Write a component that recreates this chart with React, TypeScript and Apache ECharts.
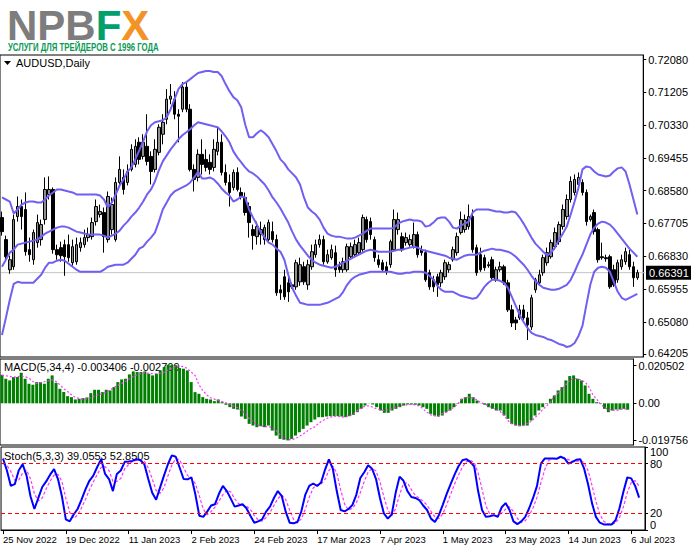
import React, { useEffect, useRef } from "react";
import * as echarts from "echarts";

const tickLabels = ["25 Nov 2022", "19 Dec 2022", "11 Jan 2023", "2 Feb 2023", "24 Feb 2023", "17 Mar 2023", "7 Apr 2023", "1 May 2023", "23 May 2023", "14 Jun 2023", "6 Jul 2023"];
const priceTicks = [0.7208, 0.71205, 0.7033, 0.69455, 0.6858, 0.67705, 0.6683, 0.65955, 0.6508, 0.64205];
const macdTicks = [0.020502, 0, -0.019756];
const stochTicks = [0, 20, 80, 100];
const stochLevels = [20, 80];
const lastPrice = 0.66391;

const open = [
  0.67862, 0.67273, 0.66469, 0.66549, 0.67888, 0.68156, 0.68076, 0.67005, 0.66737, 0.67193,
  0.67273, 0.67808, 0.68478, 0.68612, 0.67005, 0.67059, 0.67139, 0.67139, 0.66657, 0.66683,
  0.67059, 0.67139, 0.67327, 0.67353, 0.67754, 0.67942, 0.67996, 0.67273, 0.67541, 0.67273,
  0.68799, 0.68933, 0.68799, 0.69147, 0.69281, 0.69871, 0.69495, 0.69763, 0.69495, 0.69147,
  0.69602, 0.70085, 0.70486, 0.71022, 0.71022, 0.7062, 0.70754, 0.71344, 0.70754, 0.69147,
  0.68933, 0.69549, 0.69415, 0.69335, 0.69201, 0.69629, 0.69871, 0.69067, 0.68799, 0.68665,
  0.69067, 0.68532, 0.68398, 0.68156, 0.67541, 0.67353, 0.67407, 0.67273, 0.67273, 0.67487,
  0.67273, 0.65934, 0.66281, 0.66121, 0.66067, 0.66013, 0.66147, 0.66549, 0.66067, 0.66549,
  0.66871, 0.67139, 0.67273, 0.66683, 0.66791, 0.66925, 0.66549, 0.66469, 0.66469, 0.66817,
  0.66871, 0.66925, 0.67005, 0.67808, 0.67754, 0.67273, 0.66737, 0.66657, 0.66549, 0.66603,
  0.67005, 0.67541, 0.67353, 0.67193, 0.67139, 0.67085, 0.67407, 0.67005, 0.66925, 0.66389,
  0.66201, 0.66281, 0.66121, 0.66281, 0.66469, 0.66737, 0.66925, 0.67461, 0.67541, 0.6762,
  0.67888, 0.67059, 0.66871, 0.66791, 0.66576, 0.66737, 0.66201, 0.66469, 0.66549, 0.66121,
  0.65398, 0.6513, 0.65184, 0.65398, 0.65184, 0.64942, 0.65934, 0.66121, 0.66389, 0.66657,
  0.66817, 0.67085, 0.67219, 0.6762, 0.67888, 0.68344, 0.68532, 0.68746, 0.68799, 0.68532,
  0.67808, 0.67996, 0.67541, 0.66817, 0.66791, 0.66817, 0.66469, 0.66201, 0.66549, 0.66683,
  0.66871, 0.66549, 0.66255,
];
const close = [
  0.67487, 0.66817, 0.66737, 0.67808, 0.68156, 0.67888, 0.66951, 0.66871, 0.67461, 0.67728,
  0.67674, 0.68612, 0.68612, 0.67005, 0.66871, 0.66844, 0.66817, 0.66791, 0.67085, 0.67139,
  0.67193, 0.67327, 0.67407, 0.67728, 0.68156, 0.68022, 0.67353, 0.68424, 0.6821, 0.68799,
  0.69147, 0.68612, 0.69093, 0.69683, 0.69763, 0.69415, 0.69871, 0.69361, 0.69093, 0.69683,
  0.70272, 0.70406, 0.71022, 0.71103, 0.7062, 0.70567, 0.71344, 0.70754, 0.69147, 0.6888,
  0.69549, 0.69281, 0.69201, 0.69147, 0.69683, 0.69871, 0.69067, 0.68799, 0.68532, 0.69067,
  0.68612, 0.68424, 0.67996, 0.67728, 0.6738, 0.6762, 0.67541, 0.67594, 0.67728, 0.67273,
  0.65853, 0.65853, 0.65746, 0.6588, 0.66013, 0.66657, 0.66603, 0.66147, 0.66603, 0.66951,
  0.67139, 0.67273, 0.66683, 0.66871, 0.67005, 0.66469, 0.66469, 0.66683, 0.67085, 0.67085,
  0.67139, 0.67193, 0.67862, 0.67273, 0.67407, 0.66791, 0.66603, 0.66469, 0.66415, 0.67219,
  0.67808, 0.67808, 0.67005, 0.67327, 0.67273, 0.67407, 0.66871, 0.66925, 0.66201, 0.66013,
  0.66013, 0.66067, 0.66389, 0.66657, 0.66603, 0.67005, 0.67353, 0.67808, 0.67808, 0.67888,
  0.67005, 0.66389, 0.66469, 0.66523, 0.66603, 0.66255, 0.66469, 0.66549, 0.66121, 0.65398,
  0.6505, 0.6505, 0.65398, 0.65184, 0.64996, 0.6572, 0.66201, 0.66335, 0.66791, 0.66925,
  0.67193, 0.67461, 0.67674, 0.68076, 0.68344, 0.68826, 0.6888, 0.68933, 0.68532, 0.67754,
  0.67888, 0.67487, 0.66737, 0.66791, 0.66764, 0.66013, 0.66067, 0.66657, 0.66737, 0.66951,
  0.66549, 0.66255, 0.66391,
];
const high = [
  0.68022, 0.6738, 0.66844, 0.67942, 0.68424, 0.68344, 0.68532, 0.67327, 0.67541, 0.67942,
  0.67808, 0.68933, 0.6896, 0.68665, 0.67139, 0.67219, 0.67273, 0.67407, 0.67273, 0.67327,
  0.67327, 0.67541, 0.67594, 0.67862, 0.68344, 0.6821, 0.6813, 0.68558, 0.68398, 0.68933,
  0.69495, 0.69147, 0.69281, 0.69817, 0.69951, 0.70004, 0.70085, 0.7062, 0.69629, 0.69951,
  0.70352, 0.7062, 0.7129, 0.71424, 0.71236, 0.70754, 0.71478, 0.71504, 0.70888, 0.69281,
  0.69683, 0.69951, 0.69683, 0.69549, 0.69951, 0.70272, 0.70085, 0.69281, 0.69013, 0.69147,
  0.69201, 0.68665, 0.68532, 0.68264, 0.67674, 0.67754, 0.67754, 0.67674, 0.67808, 0.67754,
  0.67407, 0.66067, 0.66469, 0.66335, 0.66121, 0.66737, 0.66791, 0.66683, 0.66737, 0.67139,
  0.67273, 0.67407, 0.6738, 0.67005, 0.67139, 0.67112, 0.66683, 0.66791, 0.67166, 0.67193,
  0.67273, 0.67327, 0.67942, 0.67888, 0.67862, 0.67353, 0.66871, 0.66737, 0.66683, 0.67273,
  0.68076, 0.67996, 0.67461, 0.67461, 0.67407, 0.67728, 0.67487, 0.67112, 0.67005, 0.66469,
  0.66308, 0.66362, 0.66469, 0.66737, 0.66683, 0.67085, 0.67461, 0.68022, 0.67942, 0.6821,
  0.68076, 0.67139, 0.67059, 0.66871, 0.66683, 0.66817, 0.66549, 0.66683, 0.66603, 0.66201,
  0.65532, 0.65211, 0.65532, 0.65532, 0.65344, 0.658, 0.66255, 0.66469, 0.66871, 0.67059,
  0.67273, 0.67594, 0.67754, 0.6821, 0.68478, 0.6896, 0.69013, 0.69067, 0.6888, 0.68612,
  0.67942, 0.68076, 0.67594, 0.67193, 0.66871, 0.66871, 0.66603, 0.66737, 0.66871, 0.67059,
  0.67005, 0.66683, 0.66469,
];
const low = [
  0.6738, 0.66683, 0.66362, 0.66469, 0.67754, 0.67541, 0.66844, 0.66683, 0.66603, 0.67059,
  0.67112, 0.67674, 0.68344, 0.66898, 0.66737, 0.66683, 0.66308, 0.66683, 0.66576, 0.66603,
  0.66951, 0.67059, 0.67219, 0.67273, 0.67647, 0.67862, 0.66925, 0.67193, 0.67407, 0.67219,
  0.68719, 0.68478, 0.68719, 0.69093, 0.69201, 0.69281, 0.69415, 0.69254, 0.68746, 0.69067,
  0.69522, 0.69817, 0.70352, 0.70888, 0.70486, 0.69871, 0.70674, 0.70674, 0.69093, 0.68558,
  0.68826, 0.69013, 0.69093, 0.69013, 0.69093, 0.69522, 0.68986, 0.68719, 0.68156, 0.68585,
  0.68558, 0.68344, 0.67915, 0.67327, 0.67005, 0.67139, 0.67139, 0.67139, 0.67193, 0.67193,
  0.65773, 0.65666, 0.65666, 0.65612, 0.6596, 0.65934, 0.6604, 0.66067, 0.65934, 0.66469,
  0.66791, 0.67059, 0.66603, 0.6663, 0.66737, 0.66281, 0.66389, 0.66389, 0.66415, 0.66764,
  0.66817, 0.66871, 0.66951, 0.67193, 0.67273, 0.66683, 0.66523, 0.66415, 0.66335, 0.66523,
  0.66951, 0.67407, 0.66951, 0.67112, 0.67085, 0.67032, 0.66791, 0.66844, 0.66147, 0.65934,
  0.6588, 0.65746, 0.66013, 0.66201, 0.66389, 0.66683, 0.66844, 0.67407, 0.67461, 0.67541,
  0.66925, 0.66308, 0.66415, 0.66442, 0.66523, 0.66201, 0.66147, 0.66415, 0.66067, 0.65344,
  0.64942, 0.64862, 0.6513, 0.6513, 0.64595, 0.64862, 0.65853, 0.66067, 0.66308, 0.66576,
  0.66764, 0.67005, 0.67139, 0.67541, 0.67808, 0.68264, 0.68451, 0.68612, 0.68451, 0.67647,
  0.67754, 0.67407, 0.66657, 0.66737, 0.66683, 0.6596, 0.66013, 0.66121, 0.66469, 0.66603,
  0.66469, 0.66013, 0.66201,
];

const bbUpper = [
  0.68398, 0.68344, 0.6829, 0.67969, 0.68076, 0.6821, 0.68264, 0.6829, 0.6829, 0.68264,
  0.68264, 0.68344, 0.68451, 0.68532, 0.68612, 0.68612, 0.68585, 0.68558, 0.68532, 0.68478,
  0.68478, 0.68478, 0.68478, 0.68478, 0.68478, 0.68451, 0.68344, 0.6813, 0.68264, 0.68478,
  0.68719, 0.6888, 0.69093, 0.69201, 0.69415, 0.69656, 0.69897, 0.70165, 0.70325, 0.70406,
  0.70432, 0.70459, 0.7054, 0.70754, 0.71022, 0.7129, 0.71424, 0.71478, 0.71558, 0.71639,
  0.71719, 0.71746, 0.71772, 0.71772, 0.71746, 0.71746, 0.71639, 0.71424, 0.71236, 0.71076,
  0.70995, 0.70808, 0.70352, 0.70004, 0.70004, 0.70112, 0.70192, 0.70112, 0.70004, 0.69817,
  0.69629, 0.69415, 0.69308, 0.69147, 0.6904, 0.68933, 0.68746, 0.68398, 0.6813, 0.68022,
  0.67942, 0.67808, 0.67594, 0.67434, 0.6738, 0.67353, 0.67353, 0.67327, 0.673, 0.673,
  0.67327, 0.6738, 0.67434, 0.67514, 0.67567, 0.67567, 0.67567, 0.67567, 0.67567, 0.67567,
  0.67594, 0.67701, 0.67754, 0.67781, 0.67808, 0.67781, 0.67781, 0.67754, 0.6762, 0.67647,
  0.67728, 0.67835, 0.67862, 0.67862, 0.67754, 0.67594, 0.67567, 0.67647, 0.67701, 0.67754,
  0.67996, 0.68076, 0.68076, 0.68076, 0.68076, 0.68049, 0.68022, 0.68022, 0.67996, 0.67996,
  0.68022, 0.67996, 0.67862, 0.67701, 0.67514, 0.67327, 0.67166, 0.67059, 0.66951, 0.66844,
  0.66925, 0.67059, 0.67273, 0.67434, 0.6762, 0.67942, 0.6829, 0.68665, 0.69147, 0.69227,
  0.69201, 0.69093, 0.69013, 0.68986, 0.6896, 0.68986, 0.69093, 0.69174, 0.69201, 0.69093,
  0.68746, 0.68344, 0.67942,
];
const bbMiddle = [
  0.66549, 0.66737, 0.66925, 0.67005, 0.67139, 0.67166, 0.67193, 0.67219, 0.67246, 0.67273,
  0.67353, 0.67434, 0.67487, 0.67541, 0.67594, 0.6762, 0.6762, 0.67594, 0.67541, 0.67487,
  0.67461, 0.67434, 0.67407, 0.67407, 0.67407, 0.67407, 0.6738, 0.67327, 0.6738, 0.67434,
  0.67514, 0.67647, 0.67754, 0.67888, 0.67996, 0.6813, 0.6829, 0.68478, 0.68612, 0.68826,
  0.6912, 0.69361, 0.69522, 0.69683, 0.69817, 0.69951, 0.70058, 0.70138, 0.70219, 0.70325,
  0.70406, 0.70379, 0.70352, 0.70325, 0.70298, 0.70272, 0.70165, 0.70031, 0.69871, 0.69629,
  0.69469, 0.69335, 0.69201, 0.69093, 0.6904, 0.6896, 0.68853, 0.68746, 0.68585, 0.68398,
  0.68264, 0.68103, 0.67915, 0.67728, 0.67487, 0.67273, 0.67112, 0.66978, 0.66844, 0.66737,
  0.66657, 0.66603, 0.66576, 0.66549, 0.66523, 0.66549, 0.66603, 0.66657, 0.6671, 0.66764,
  0.66817, 0.66871, 0.66925, 0.66978, 0.67005, 0.66978, 0.66951, 0.66951, 0.66951, 0.66951,
  0.66978, 0.67005, 0.67005, 0.67032, 0.67059, 0.67085, 0.67059, 0.67005, 0.66978, 0.66951,
  0.66925, 0.66898, 0.66871, 0.66844, 0.66791, 0.66764, 0.66737, 0.66791, 0.66844, 0.66871,
  0.66871, 0.66871, 0.66925, 0.66978, 0.67005, 0.67032, 0.67005, 0.67005, 0.66978, 0.66951,
  0.66898, 0.66817, 0.6671, 0.66603, 0.66469, 0.66308, 0.66174, 0.66067, 0.65987, 0.6596,
  0.65934, 0.65934, 0.6596, 0.66013, 0.66067, 0.66201, 0.66415, 0.66657, 0.66871, 0.67139,
  0.67407, 0.67594, 0.67701, 0.67754, 0.67728, 0.67674, 0.67567, 0.67434, 0.673, 0.67166,
  0.67032, 0.66925, 0.66817,
];
const bbLower = [
  0.64728, 0.65184, 0.65666, 0.66094, 0.66147, 0.66121, 0.66121, 0.66121, 0.66121, 0.66228,
  0.66335, 0.66523, 0.66657, 0.66657, 0.6671, 0.66737, 0.6671, 0.6663, 0.66549, 0.66469,
  0.66415, 0.66415, 0.66415, 0.66415, 0.66415, 0.66415, 0.66469, 0.66549, 0.66576, 0.66603,
  0.66603, 0.66603, 0.66657, 0.66764, 0.66871, 0.67032, 0.67085, 0.67219, 0.67327, 0.67461,
  0.67754, 0.68076, 0.68264, 0.68451, 0.68558, 0.68612, 0.68665, 0.68719, 0.68799, 0.68933,
  0.69093, 0.68906, 0.68906, 0.68933, 0.6888, 0.68773, 0.68639, 0.68532, 0.68451, 0.6829,
  0.68344, 0.68424, 0.68398, 0.68076, 0.67862, 0.67674, 0.67461, 0.67327, 0.67193, 0.67139,
  0.67032, 0.66951, 0.66737, 0.66335, 0.65987, 0.65773, 0.65586, 0.65559, 0.65532, 0.65532,
  0.65532, 0.65532, 0.65559, 0.65586, 0.65639, 0.65693, 0.65746, 0.6588, 0.66067, 0.66201,
  0.66281, 0.66335, 0.66362, 0.66389, 0.66415, 0.66415, 0.66415, 0.66415, 0.66415, 0.66415,
  0.66389, 0.66362, 0.66362, 0.66389, 0.66389, 0.66415, 0.66415, 0.66415, 0.66389, 0.66308,
  0.66201, 0.6604, 0.65934, 0.6588, 0.6588, 0.6588, 0.65827, 0.65773, 0.65746, 0.6572,
  0.65693, 0.6572, 0.65853, 0.66013, 0.66121, 0.66201, 0.66201, 0.66174, 0.66121, 0.65987,
  0.65746, 0.65505, 0.65264, 0.65076, 0.64916, 0.64782, 0.64728, 0.64701, 0.64675, 0.64621,
  0.64595, 0.64541, 0.64488, 0.64461, 0.64407, 0.64434, 0.64514, 0.64701, 0.64969, 0.65532,
  0.66067, 0.66415, 0.66523, 0.66549, 0.66523, 0.66415, 0.66147, 0.6588, 0.6572, 0.65666,
  0.6572, 0.65773, 0.65827,
];

const macdMain = [
  0.01522, 0.01308, 0.01219, 0.01397, 0.01397, 0.01629, 0.01308, 0.01041, 0.00988, 0.0113,
  0.0113, 0.01041, 0.01308, 0.01486, 0.01095, 0.00774, 0.00596, 0.00383, 0.00329, 0.00205,
  0.0024, 0.00276, 0.00312, 0.00543, 0.00721, 0.00721, 0.00596, 0.00721, 0.00685, 0.00863,
  0.0113, 0.01273, 0.01308, 0.0154, 0.017, 0.01664, 0.01664, 0.017, 0.01575, 0.01486,
  0.01575, 0.01753, 0.01931, 0.0205, 0.0205, 0.0203, 0.01878, 0.01842, 0.01753, 0.0113,
  0.00596, 0.00507, 0.00329, 0.0024, 0.00205, 0.00116, 0.00205, 0.00062, -0.0008, -0.00205,
  -0.00294, -0.00329, -0.00703, -0.00828, -0.01095, -0.01184, -0.01273, -0.01219, -0.01273, -0.01184,
  -0.01451, -0.01718, -0.01896, -0.0194, -0.01976, -0.01896, -0.01718, -0.0154, -0.01362, -0.01184,
  -0.01006, -0.00863, -0.00739, -0.00739, -0.00703, -0.00685, -0.00685, -0.00685, -0.00703, -0.00739,
  -0.00685, -0.00614, -0.00472, -0.00294, -0.00116, 0.00009, -0.00062, -0.00205, -0.00383, -0.00507,
  -0.00507, -0.00383, -0.00294, -0.00205, -0.00116, -0.00062, -0.00062, -0.0008, -0.00116, -0.00205,
  -0.00294, -0.00561, -0.0065, -0.00703, -0.0065, -0.00472, -0.00383, -0.00205, -0.00027, 0.0024,
  0.00329, 0.00507, 0.00329, 0.00151, 0.00009, -0.0008, -0.00205, -0.00294, -0.00383, -0.00383,
  -0.0065, -0.00828, -0.01095, -0.01184, -0.01219, -0.01184, -0.01184, -0.00917, -0.0065, -0.00383,
  -0.00205, -0.00027, 0.0024, 0.00418, 0.00685, 0.00863, 0.01219, 0.01451, 0.01486, 0.01308,
  0.01219, 0.00952, 0.00507, 0.0024, 0.00062, -0.00027, -0.00294, -0.00472, -0.00383, -0.00329,
  -0.00329, -0.00294, -0.003406,
];
const macdSignal = [
  0.01486, 0.01468, 0.01433, 0.01397, 0.01415, 0.01451, 0.01415, 0.01344, 0.01166, 0.01059,
  0.01095, 0.01148, 0.01202, 0.01255, 0.01166, 0.00988, 0.00774, 0.00632, 0.00454, 0.00312,
  0.00258, 0.0024, 0.0024, 0.00312, 0.00383, 0.00454, 0.00507, 0.00596, 0.00703, 0.00846,
  0.0097, 0.01059, 0.01166, 0.01308, 0.01433, 0.01522, 0.01575, 0.01629, 0.01593, 0.01575,
  0.01575, 0.01611, 0.01664, 0.01771, 0.01878, 0.01967, 0.01985, 0.01949, 0.0186, 0.01664,
  0.01486, 0.00988, 0.00685, 0.00454, 0.00294, 0.00222, 0.00151, 0.00098, 0.00027, -0.00027,
  -0.00151, -0.0024, -0.00383, -0.00543, -0.00828, -0.0097, -0.0113, -0.01202, -0.01219, -0.01255,
  -0.01273, -0.01451, -0.01682, -0.01825, -0.01932, -0.01932, -0.01878, -0.01753, -0.01629, -0.01486,
  -0.01344, -0.01255, -0.01059, -0.00935, -0.0081, -0.00739, -0.00685, -0.00685, -0.00739, -0.00703,
  -0.0065, -0.00579, -0.00383, -0.00258, -0.00151, -0.00134, -0.00205, -0.00294, -0.00347, -0.00383,
  -0.00347, -0.00294, -0.00205, -0.00151, -0.00098, -0.0008, -0.00062, -0.0008, -0.00134, -0.00294,
  -0.00472, -0.00614, -0.00668, -0.00685, -0.00543, -0.00472, -0.00329, -0.00205, -0.00045, 0.0024,
  0.00294, 0.00329, 0.00276, 0.00187, 0.00027, -0.00027, -0.00151, -0.0024, -0.00329, -0.00436,
  -0.0065, -0.00917, -0.01095, -0.01166, -0.01184, -0.01184, -0.01059, -0.0097, -0.00757, -0.00561,
  -0.00329, -0.00151, 0.00062, 0.00383, 0.00561, 0.00774, 0.00988, 0.01219, 0.01326, 0.01308,
  0.01237, 0.0113, 0.00863, 0.00454, 0.00205, -0.00045, -0.00222, -0.00329, -0.00365, -0.00383,
  -0.00329, -0.00312, -0.002769,
];

const stochMain = [
  86.2, 71.7, 53.1, 55.2, 71.7, 79.2, 65.5, 40.7, 25.3, 38.6,
  51.8, 58.5, 66.7, 73.4, 61.4, 40.7, 12.9, 10.4, 18.7, 25.3,
  36.5, 48.9, 59.3, 65.5, 75.9, 85.4, 67.6, 61.4, 46.9, 67.6,
  71.7, 82.1, 82.5, 83.3, 85.4, 84.1, 79.2, 61.4, 44.8, 36.5,
  51.0, 65.5, 79.2, 89.9, 88.3, 75.0, 61.4, 61.0, 63.4, 42.7,
  17.1, 15.8, 22.1, 29.5, 31.1, 43.6, 53.1, 46.9, 37.8, 28.2,
  29.5, 31.1, 26.2, 17.1, 8.8, 10.4, 12.9, 22.1, 28.2, 38.6,
  46.9, 40.7, 22.1, 8.8, 8.0, 9.6, 22.9, 42.7, 53.1, 56.0,
  53.1, 57.2, 72.5, 85.0, 73.8, 46.9, 24.1, 22.4, 25.3, 30.3,
  42.7, 62.6, 69.6, 77.9, 73.8, 61.4, 38.6, 20.0, 13.7, 18.7,
  44.8, 64.3, 59.3, 46.9, 39.8, 38.6, 36.1, 29.5, 24.1, 13.7,
  9.6, 17.9, 30.3, 43.6, 55.2, 66.7, 76.8, 84.1, 85.4, 82.1,
  76.7, 46.9, 24.1, 15.8, 16.6, 17.9, 15.8, 27.4, 32.4, 24.1,
  10.4, 7.1, 10.4, 15.8, 26.2, 38.6, 53.1, 80.0, 86.2, 86.2,
  86.2, 85.8, 88.3, 86.2, 80.0, 82.1, 84.6, 85.4, 73.8, 55.2,
  32.4, 15.8, 8.8, 6.7, 6.7, 6.7, 11.7, 26.2, 46.0, 63.4,
  62.2, 53.1, 39.0553,
];
const stochSignal = [
  80.0, 78.0, 70.3, 60.0, 60.0, 68.7, 72.1, 61.8, 43.8, 34.9,
  38.6, 49.6, 59.0, 66.2, 67.2, 58.5, 38.3, 21.3, 14.0, 18.1,
  26.8, 36.9, 48.2, 57.9, 66.9, 75.6, 76.3, 71.5, 58.6, 58.6,
  62.1, 73.8, 78.8, 82.6, 83.7, 84.3, 82.9, 74.9, 61.8, 47.6,
  44.1, 51.0, 65.2, 78.2, 85.8, 84.4, 74.9, 65.8, 61.9, 55.7,
  41.1, 25.2, 18.3, 22.5, 27.6, 34.7, 42.6, 47.9, 45.9, 37.6,
  31.8, 29.6, 28.9, 24.8, 17.4, 12.1, 10.7, 15.1, 21.1, 29.6,
  37.9, 42.1, 36.6, 23.9, 13.0, 8.8, 13.5, 25.1, 39.6, 50.6,
  54.1, 55.4, 60.9, 71.6, 77.1, 68.6, 48.3, 31.1, 23.9, 26.0,
  32.8, 45.2, 58.3, 70.0, 73.8, 71.0, 57.9, 40.0, 24.1, 17.5,
  25.7, 42.6, 56.1, 56.8, 48.7, 41.8, 38.2, 34.7, 29.9, 22.4,
  15.8, 13.7, 19.3, 30.6, 43.0, 55.2, 66.2, 75.9, 82.1, 83.9,
  81.4, 68.6, 49.2, 28.9, 18.8, 16.8, 16.8, 20.4, 25.2, 28.0,
  22.3, 13.9, 9.3, 11.1, 17.5, 26.9, 39.3, 57.2, 73.1, 84.1,
  86.2, 86.1, 86.8, 86.8, 84.8, 82.8, 82.2, 84.0, 81.3, 71.5,
  53.8, 34.5, 19.0, 10.4, 7.4, 6.7, 8.4, 14.9, 28.0, 45.2,
  57.2, 59.6, 52.8505,
];

const FONT = "Liberation Sans";

export default function App() {
  const ref = useRef<HTMLDivElement>(null);
  useEffect(() => {
    const chart = echarts.init(ref.current!, null, { renderer: "svg" });
    const cats = [...open.map((_, i) => String(i)), ""];
    const candles = open.map((o, i) => [o, close[i], low[i], high[i]]);
    const isTick = (idx: number) => idx % 16 === 0 && idx / 16 < tickLabels.length;
    const hiddenX = (gi: number) => ({
      type: "category", gridIndex: gi, data: cats, boundaryGap: true,
      axisLine: { show: false }, axisTick: { show: false }, axisLabel: { show: false }, splitLine: { show: false },
    });
    const lbl = { color: "#000", fontSize: 11, fontFamily: FONT, margin: 5, lineHeight: 11 };
    const richPart = (pad: number[]) => ({ padding: pad, fontSize: 11, fontFamily: FONT, color: "#000", lineHeight: 11 });
    const yBase = (gi: number) => ({
      type: "value", gridIndex: gi, position: "right", scale: true, splitLine: { show: false },
      axisLine: { show: true, lineStyle: { color: "#000", width: 1 } },
    });
    const bandStyle = { color: "#6f5ff2", width: 2 };
    const priceMin = priceTicks[priceTicks.length - 1];
    chart.setOption({
      animation: false,
      backgroundColor: "#fff",
      grid: [
        { left: 0, top: 55, width: 645, height: 302, show: true, borderColor: "#000", borderWidth: 1 },
        { left: 0, top: 359, width: 645, height: 86, show: true, borderColor: "#000", borderWidth: 1 },
        { left: 0, top: 447, width: 645, height: 83, show: true, borderColor: "#000", borderWidth: 1 },
      ],
      xAxis: [
        hiddenX(0),
        hiddenX(1),
        {
          ...hiddenX(2),
          axisLine: { show: true, lineStyle: { color: "#000" } },
          axisTick: { show: true, interval: isTick, alignWithLabel: true, length: 4, lineStyle: { color: "#000" } },
          axisLabel: {
            show: true, interval: isTick, align: "left", color: "#000", fontSize: 9.5, fontFamily: FONT, margin: 4,
            formatter: (_v: string, idx: number) => tickLabels[idx / 16] ?? "",
          },
        },
      ],
      yAxis: [
        {
          ...yBase(0), min: 0.6414, max: 0.72201,
          axisTick: { show: true, customValues: priceTicks, length: 3, lineStyle: { color: "#000" } },
          axisLabel: {
            ...lbl, customValues: priceTicks,
            formatter: (v: number) => (v === priceMin ? `{lo|${v.toFixed(5)}}` : v.toFixed(5)),
            rich: { lo: richPart([0, 0, 4, 0]) },
          },
        },
        {
          ...yBase(1), min: -0.0222, max: 0.0236,
          axisTick: { show: true, customValues: macdTicks, length: 3, lineStyle: { color: "#000" } },
          axisLabel: {
            ...lbl, customValues: macdTicks,
            formatter: (v: number) => (v === 0 ? "0.00" : v > 0 ? `{hi|${v}}` : String(v)),
            rich: { hi: richPart([3, 0, 0, 0]) },
          },
        },
        {
          ...yBase(2), min: 0, max: 100,
          axisTick: { show: true, customValues: stochTicks, length: 3, lineStyle: { color: "#000" } },
          axisLabel: {
            ...lbl, customValues: stochTicks,
            formatter: (v: number) => (v === 100 ? "{t|100}" : v === 0 ? "{b|0}" : String(v)),
            rich: { t: richPart([10, 0, 0, 0]), b: richPart([0, 0, 10, 0]) },
          },
        },
      ],
      series: [
        {
          type: "candlestick", xAxisIndex: 0, yAxisIndex: 0, data: candles, barWidth: 3, z: 2,
          itemStyle: { color: "#8f8f8f", color0: "#000", borderColor: "#000", borderColor0: "#000", borderWidth: 1 },
        },
        { name: "upper", type: "line", xAxisIndex: 0, yAxisIndex: 0, data: bbUpper, showSymbol: false, symbol: "none", lineStyle: bandStyle, z: 4, silent: true },
        { name: "middle", type: "line", xAxisIndex: 0, yAxisIndex: 0, data: bbMiddle, showSymbol: false, symbol: "none", lineStyle: bandStyle, z: 4, silent: true },
        { name: "lower", type: "line", xAxisIndex: 0, yAxisIndex: 0, data: bbLower, showSymbol: false, symbol: "none", lineStyle: bandStyle, z: 4, silent: true },
        { type: "bar", xAxisIndex: 1, yAxisIndex: 1, data: macdMain, barWidth: 3, itemStyle: { color: "#007f00" } },
        {
          type: "line", xAxisIndex: 1, yAxisIndex: 1, data: macdSignal, showSymbol: false, symbol: "none",
          lineStyle: { color: "#ff33ff", width: 1.2, type: [2, 2] }, z: 4,
        },
        {
          type: "line", xAxisIndex: 2, yAxisIndex: 2, data: stochSignal, showSymbol: false, symbol: "none",
          lineStyle: { color: "#ff33ff", width: 1.2, type: [3, 2] }, z: 3,
        },
        {
          type: "line", xAxisIndex: 2, yAxisIndex: 2, data: stochMain, showSymbol: false, symbol: "none",
          lineStyle: { color: "#0000ff", width: 2 }, z: 4,
          markLine: {
            silent: true, symbol: ["none", "none"], animation: false, label: { show: false },
            lineStyle: { color: "#ff0000", width: 1, type: [4, 3] },
            data: stochLevels.map((v) => ({ yAxis: v })),
          },
        },
      ],
    });

    const py = chart.convertToPixel({ yAxisIndex: 0 }, lastPrice) as number;
    chart.setOption({
      graphic: [
        { type: "line", z: 1, shape: { x1: 1, y1: py, x2: 645, y2: py }, style: { stroke: "#c4c4c4", lineWidth: 1 }, silent: true },
        {
          type: "text", x: 646, y: py, z: 50,
          style: {
            text: lastPrice.toFixed(5), fill: "#fff", backgroundColor: "#000", padding: [2, 3, 1, 3],
            font: `11px "${FONT}"`, verticalAlign: "middle",
          },
        },
        {
          type: "text", x: 7, y: 4,
          style: {
            text: "{g|NPB}{f|F}{o|X}",
            rich: {
              g: { fill: "#7d7d7d", fontSize: 42, fontWeight: "bold", fontFamily: FONT },
              f: { fill: "#00a06a", fontSize: 42, fontWeight: "bold", fontFamily: FONT },
              o: { fill: "#f39225", fontSize: 42, fontWeight: "bold", fontFamily: FONT },
            },
          },
        },
        {
          type: "text", x: 8, y: 41, scaleX: 0.71,
          style: { text: "УСЛУГИ ДЛЯ ТРЕЙДЕРОВ С 1996 ГОДА", fill: "#0a9a55", font: `bold 11px "${FONT}"` },
        },
        { type: "polygon", shape: { points: [[4, 61], [11, 61], [7.5, 65]] }, style: { fill: "#000" } },
        { type: "text", x: 16, y: 57, style: { text: "AUDUSD,Daily", fill: "#000", font: `11px "${FONT}"` } },
        { type: "text", x: 4, y: 361, style: { text: "MACD(5,34,4) -0.003406 -0.002769", fill: "#000", font: `11px "${FONT}"` } },
        { type: "text", x: 4, y: 450, style: { text: "Stoch(5,3,3) 39.0553 52.8505", fill: "#000", font: `11px "${FONT}"` } },
      ],
    });
    return () => chart.dispose();
  }, []);
  return <div ref={ref} style={{ position: "fixed", left: 0, top: 0, width: 691, height: 549, background: "#fff" }} />;
}
